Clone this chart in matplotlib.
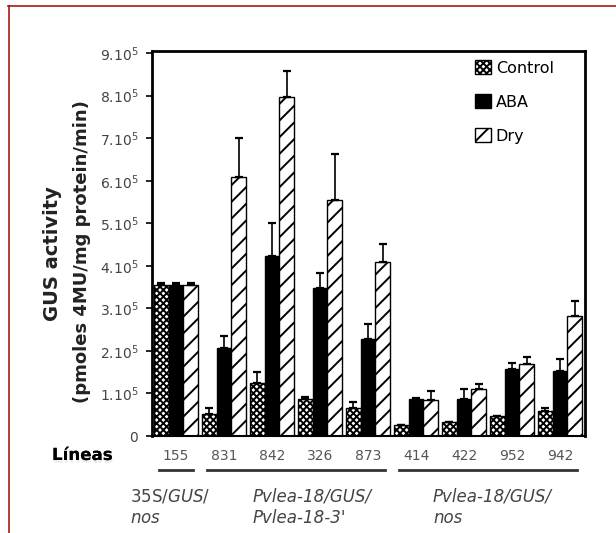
import matplotlib.pyplot as plt
import matplotlib.patheffects as pe
from matplotlib.lines import Line2D
import numpy as np

# GUS activity, in units of 1e5 pmoles 4MU/mg protein/min
lines = ['155', '831', '842', '326', '873', '414', '422', '952', '942']
control = [3.55, 0.52, 1.25, 0.87, 0.66, 0.26, 0.33, 0.47, 0.59]
control_err = [0.05, 0.14, 0.26, 0.05, 0.14, 0.0, 0.0, 0.0, 0.07]
aba = [3.55, 2.07, 4.24, 3.49, 2.29, 0.87, 0.87, 1.58, 1.53]
aba_err = [0.05, 0.29, 0.76, 0.33, 0.35, 0.03, 0.23, 0.14, 0.28]
dry = [3.55, 6.08, 7.96, 5.54, 4.08, 0.85, 1.10, 1.70, 2.83]
dry_err = [0.05, 0.92, 0.62, 1.10, 0.44, 0.21, 0.12, 0.16, 0.35]

constructs = ['35S/$\\it{GUS}$/\n$\\it{nos}$', "Pvlea-18/GUS/\nPvlea-18-3'", 'Pvlea-18/GUS/\nnos']
construct_first = [0, 1, 5]
construct_last = [0, 4, 8]
yticks = list(range(10))
ytick_labels = ['0'] + ['%d.10$^5$' % k for k in range(1, 10)]

plt.rcParams['hatch.linewidth'] = 1.4

W, H = 616, 533
fig = plt.figure(figsize=(W / 100, H / 100), dpi=100)
ax = fig.add_axes([152 / W, 1 - 436 / H, (585 - 152) / W, (436 - 51) / H])

x = np.arange(len(lines))
bw = 0.31
scale = 1e5
series = [
    ('Control', control, control_err, -bw, dict(facecolor='white', hatch='xxxxx')),
    ('ABA', aba, aba_err, 0.0, dict(facecolor='black')),
    ('Dry', dry, dry_err, bw, dict(facecolor='white', hatch='//')),
]
handles = []
for name, vals, errs, off, style in series:
    v = np.array(vals) * scale
    e = np.array(errs) * scale
    b = ax.bar(x + off, v, bw, edgecolor='black', linewidth=1.0, label=name, zorder=2, **style)
    handles.append(b)
    ax.errorbar(x + off, v, yerr=[np.zeros_like(e), e], fmt='none', ecolor='black',
                elinewidth=1.2, capsize=3, capthick=1.6, zorder=3)

ax.set_xlim(-0.5, 8.52)
ax.set_ylim(0, 9.05 * scale)
ax.set_yticks(np.array(yticks) * scale)
ax.set_yticklabels(ytick_labels, fontsize=10, color='#444')
ax.tick_params(axis='y', direction='out', length=4, width=1.2, pad=6)
ax.set_xticks(x)
ax.set_xticklabels(lines, fontsize=10, color='#555')
ax.tick_params(axis='x', length=0, pad=9)
for s in ['top', 'right', 'left']:
    ax.spines[s].set_linewidth(2.0)
ax.spines['bottom'].set_linewidth(1.5)

ax.legend(handles=handles, loc='upper left', bbox_to_anchor=(475 / W, 1 - 60 / H),
          bbox_transform=fig.transFigure, frameon=False, fontsize=11.5,
          handlelength=1.0, handleheight=1.0, handletextpad=0.3,
          labelspacing=1.15, borderpad=0, borderaxespad=0)

# y-axis title
fig.text(53 / W, 1 - 254 / H, 'GUS activity', rotation=90, ha='center', va='center',
         fontsize=14, fontweight='bold', color='#222')
fig.text(82 / W, 1 - 252 / H, '(pmoles 4MU/mg protein/min)', rotation=90, ha='center',
         va='center', fontsize=13, fontweight='bold', color='#222')

# construct underlines and labels
tr = ax.get_xaxis_transform()
for lab, a, b in zip(constructs, construct_first, construct_last):
    ax.plot([a - 0.35, b + 0.35], [-0.088, -0.088], transform=tr, color='#333',
            lw=2, clip_on=False)
label_x = [130, 253, 433]
for lab, lx in zip(constructs, label_x):
    style = 'normal' if lab.startswith('35S') else 'italic'
    fig.text(lx / W, 1 - 507 / H, lab, ha='left', va='center', fontsize=12,
             style=style, color='#444', linespacing=1.25)

fig.text(52 / W, 1 - 455 / H, 'Líneas', ha='left', va='center', fontsize=12,
         fontweight='bold', color='black',
         path_effects=[pe.withSimplePatchShadow(offset=(0.5, -2), shadow_rgbFace='#aaa', alpha=0.2),
                       pe.Normal()])

# red frame
fig.add_artist(Line2D([8 / W, 1], [1 - 6 / H, 1 - 6 / H], color='#a51d12', lw=1.2))
fig.add_artist(Line2D([9 / W, 9 / W], [1 - 6 / H, 0], color='#a51d12', lw=1.2))

fig.savefig('out.png', dpi=100, facecolor='white')
